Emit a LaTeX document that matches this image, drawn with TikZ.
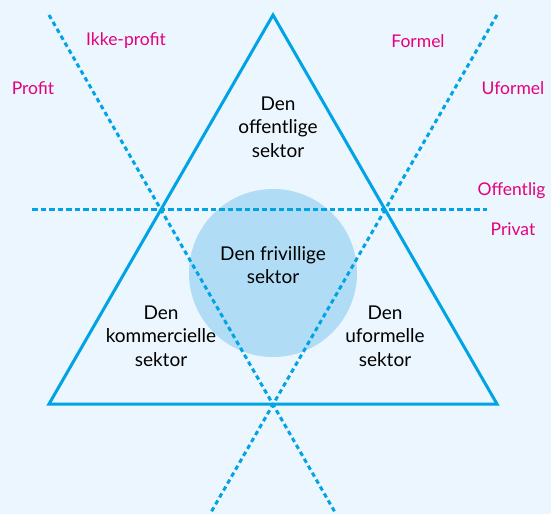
\documentclass[tikz,border=0pt]{standalone}
\usepackage{fontspec}
\setmainfont{Lato}
\definecolor{bgblue}{HTML}{EBF6FE}
\definecolor{linecyan}{HTML}{00A3E4}
\definecolor{circblue}{HTML}{B0DDF5}
\definecolor{labelpink}{HTML}{E5007D}
\tikzset{
  sektor/.style={align=center,font=\fontsize{19}{23.5}\selectfont,text=black},
  axislabel/.style={font=\fontsize{17.5}{20}\selectfont,text=labelpink},
  dotline/.style={linecyan,line width=3pt,dash pattern=on 4.5pt off 3.5pt},
  dashline/.style={linecyan,line width=3pt,dash pattern=on 5.5pt off 3pt}
}
\begin{document}
\begin{tikzpicture}[x=1pt,y=-1pt]
 \fill [bgblue] (0,0) rectangle (551,514);
 \useasboundingbox (0,0) rectangle (551,514);
 \clip (0,0) rectangle (551,514);

 % the voluntary sector in the middle
 \fill [circblue] (273,273) circle (84);

 % triangle
 \coordinate (apex) at (273,15);
 \coordinate (bl) at (49,404);
 \coordinate (br) at (497,404);
 \draw [linecyan,line width=3pt,line join=miter] (apex)--(bl)--(br)--cycle;

 % dividing lines
 \coordinate (ptop) at (49,15);
 \coordinate (pbot) at (336,514);
 \coordinate (ftop) at (497,15);
 \coordinate (fbot) at (210,514);
 \coordinate (oleft) at (32,209);
 \coordinate (oright) at (487,209);
 \draw [dotline] (ptop)--(pbot);
 \draw [dotline] (ftop)--(fbot);
 \draw [dashline] (oleft)--(oright);

 % sectors
 \node [sektor] (offentlig) at (278,127) {Den\\offentlige\\sektor};
 \node [sektor] (frivillig) at (273,265) {Den frivillige\\sektor};
 \node [sektor] (kommerciel) at (161,336) {Den\\kommercielle\\sektor};
 \node [sektor] (uformel) at (385,336) {Den\\uformelle\\sektor};

 % labels of the lines
 \node [axislabel] (ikkeprofit) at (126,41) {Ikke-profit};
 \node [axislabel] (profit) at (33,88) {Profit};
 \node [axislabel] (formel) at (418,41) {Formel};
 \node [axislabel] (uformellbl) at (513,88) {Uformel};
 \node [axislabel,anchor=west] (offentliglbl) at (474,191) {Offentlig};
 \node [axislabel] (privat) at (513,229) {Privat};
\end{tikzpicture}
\end{document}
